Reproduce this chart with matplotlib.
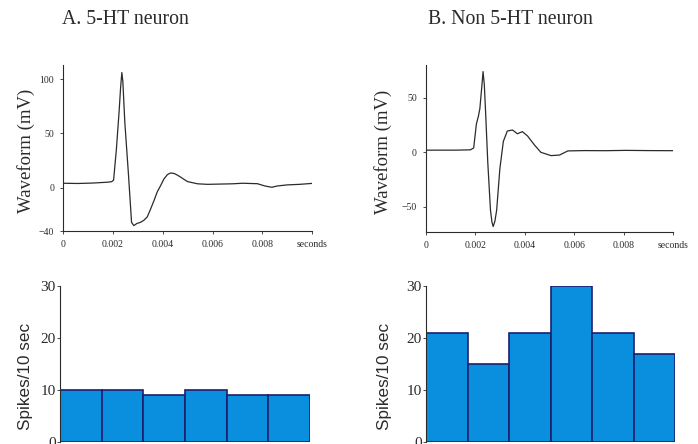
import matplotlib.pyplot as plt
import numpy as np

# waveform A (5-HT neuron), time in seconds, voltage in mV
tA = [0.0, 0.0006, 0.0012, 0.0018, 0.00196, 0.00203, 0.00214, 0.00225, 0.00231, 0.00236,
      0.0024, 0.00248, 0.00262, 0.00275, 0.00284, 0.00297, 0.00311, 0.00325, 0.00338,
      0.00351, 0.00365, 0.00378, 0.00392, 0.00405, 0.00419, 0.00432, 0.00446, 0.00459,
      0.00473, 0.00486, 0.005, 0.0054, 0.0058, 0.0062, 0.0068, 0.0072, 0.0078, 0.0081,
      0.00838, 0.0086, 0.009, 0.0095, 0.01007]
vA = [4, 3.8, 4.2, 5, 5.5, 7, 35, 70, 92, 106,
      98, 60, 14, -32, -35, -33, -32, -30, -27,
      -20, -12, -4, 2, 8, 12, 13.5, 13, 11.5,
      9.5, 7.5, 5.5, 3.5, 3, 3.2, 3.5, 4, 3.6, 1.5,
      0.3, 1.5, 2.5, 3, 4]

# waveform B (non 5-HT neuron)
tB = [0.0, 0.0006, 0.0012, 0.0018, 0.00193, 0.00204, 0.00212, 0.00218, 0.00225, 0.00231,
      0.00236, 0.00241, 0.0025, 0.00261, 0.00267, 0.00272, 0.00279, 0.00286, 0.00299,
      0.00313, 0.00329, 0.0035, 0.0037, 0.0039, 0.00411, 0.00438, 0.00465, 0.00506,
      0.0054, 0.00574, 0.00642, 0.00724, 0.0081, 0.009, 0.01007]
vB = [2, 2, 2, 2.3, 4, 26, 33, 40, 58, 74,
      62, 38, -9, -53, -64, -68, -63, -53, -15,
      10, 19.5, 20.5, 17, 19, 15, 7, 0, -3,
      -2.5, 1.3, 1.6, 1.5, 1.8, 1.6, 1.5]

# spike counts per 10 sec bin
binsA = [10, 10, 9, 10, 9, 9]
binsB = [21, 15, 21, 30, 21, 17]

wave_ticks = [0, 0.002, 0.004, 0.006, 0.008, 0.01]
wave_labels = ['0', '0.002', '0.004', '0.006', '0.008', 'seconds']

serif = 'Liberation Serif'
ink = '#2b2b2b'

fig = plt.figure(figsize=(6.98, 4.44), dpi=100)

axA = fig.add_axes([0.0903, 0.4797, 0.357, 0.374])
axB = fig.add_axes([0.6103, 0.4775, 0.354, 0.376])
axC = fig.add_axes([0.086, 0.0045, 0.358, 0.3515])
axD = fig.add_axes([0.6103, 0.0045, 0.357, 0.3515])


def wave_axes(ax, t, v, ylim, yticks, labx):
    ax.plot(t, v, color=ink, lw=0.9)
    ax.set_xlim(0, 0.01)
    ax.set_ylim(*ylim)
    ax.set_xticks(wave_ticks)
    ax.set_xticklabels(wave_labels)
    ax.set_yticks(yticks)
    for s in ['top', 'right']:
        ax.spines[s].set_visible(False)
    for s in ['left', 'bottom']:
        ax.spines[s].set_color(ink)
        ax.spines[s].set_linewidth(0.8)
    ax.tick_params(length=2.5, width=0.6, colors=ink, labelsize=7, pad=4)
    for lab in ax.get_xticklabels() + ax.get_yticklabels():
        lab.set_fontfamily(serif)
    ax.set_ylabel('Waveform (mV)', fontfamily=serif, fontsize=13.5, color=ink,
                  va='center')
    ax.yaxis.set_label_coords(labx, 0.48)


wave_axes(axA, tA, vA, (-40, 113), [-40, 0, 50, 100], -0.149)
wave_axes(axB, tB, vB, (-73, 80), [-50, 0, 50], -0.174)


def bar_axes(ax, vals, labx):
    ax.bar(np.arange(len(vals)) + 0.5, vals, width=1.0, color='#0a8ede',
           edgecolor='#1c1f6e', linewidth=1.2)
    ax.set_xlim(0, len(vals))
    ax.set_ylim(0, 30)
    ax.set_yticks([0, 10, 20, 30])
    ax.set_xticks([])
    for s in ['top', 'right', 'bottom']:
        ax.spines[s].set_visible(False)
    ax.spines['left'].set_color(ink)
    ax.spines['left'].set_linewidth(0.8)
    ax.tick_params(length=2, width=0.6, colors=ink, labelsize=11, pad=1)
    for lab in ax.get_yticklabels():
        lab.set_fontfamily(serif)
    ax.set_ylabel('Spikes/10 sec', fontfamily='Liberation Sans', fontsize=12.3, color=ink,
                  va='center')
    ax.yaxis.set_label_coords(labx, 0.417)


bar_axes(axC, binsA, -0.14)
bar_axes(axD, binsB, -0.165)

fig.text(0.089, 0.955, 'A. 5-HT neuron', fontfamily=serif, fontsize=14.3, color=ink, va='center')
fig.text(0.613, 0.955, 'B. Non 5-HT neuron', fontfamily=serif, fontsize=14.3, color=ink, va='center')

fig.savefig('out.png', dpi=100)
